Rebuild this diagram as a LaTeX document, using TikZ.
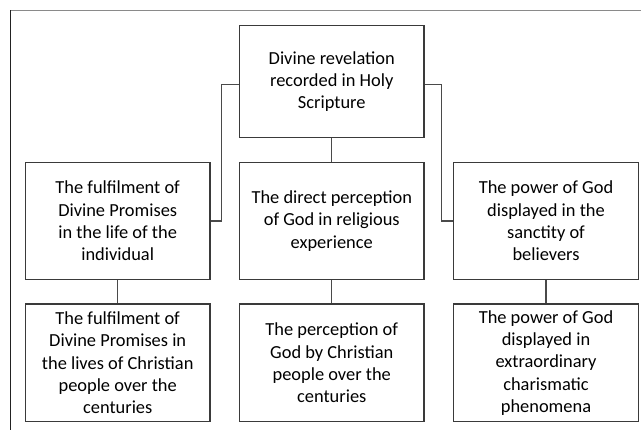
\documentclass[tikz,border=0pt]{standalone}
\usepackage{fontspec}
\setmainfont{Carlito}
\definecolor{boxline}{HTML}{3A3A3A}
\definecolor{conline}{HTML}{4A4A4A}
\definecolor{frametop}{HTML}{8A8A8A}
\definecolor{frameleft}{HTML}{222222}
\begin{document}
\begin{tikzpicture}[x=1pt,y=1pt,
  box/.style={draw=boxline,line width=1.1pt,minimum width=184.5pt,inner sep=2pt,align=center,
    font=\fontsize{18.4}{22.3}\selectfont},
  midbox/.style={box,minimum height=116.6pt},
  lowbox/.style={box,minimum height=117.7pt},
  con/.style={draw=conline,line width=1.1pt}]
\useasboundingbox (0,0) rectangle (641,430);
\draw[frametop,line width=1.2pt] (10.5,419.3) -- (641,419.3);
\draw[frameleft,line width=1.2pt] (10.5,419.9) -- (10.5,0);
\node[box,minimum height=111.7pt] (top) at (331.75,348.2) {Divine revelation\\recorded in Holy\\Scripture};
\node[midbox] (l1) at (117.7,209) {The fulfilment of\\Divine Promises\\in the life of the\\individual};
\node[midbox] (m1) at (331.75,209) {The direct perception\\of God in religious\\experience};
\node[midbox] (r1) at (546,209) {The power of God\\displayed in the\\sanctity of\\believers};
\node[lowbox] (l2) at (117.7,67.1) {The fulfilment of\\Divine Promises in\\the lives of Christian\\people over the\\centuries};
\node[lowbox] (m2) at (331.75,67.1) {The perception of\\God by Christian\\people over the\\centuries};
\node[lowbox] (r2) at (546,67.1) {The power of God\\displayed in\\extraordinary\\charismatic\\phenomena};
\draw[con] ([yshift=-3pt]top.west) -- ++(-17.8,0) |- (l1.east);
\draw[con] ([yshift=-3pt]top.east) -- ++(17,0) |- (r1.west);
\draw[con] (top) -- (m1);
\draw[con] (l1) -- (l2);
\draw[con] (m1) -- (m2);
\draw[con] (r1) -- (r2);
\end{tikzpicture}
\end{document}
